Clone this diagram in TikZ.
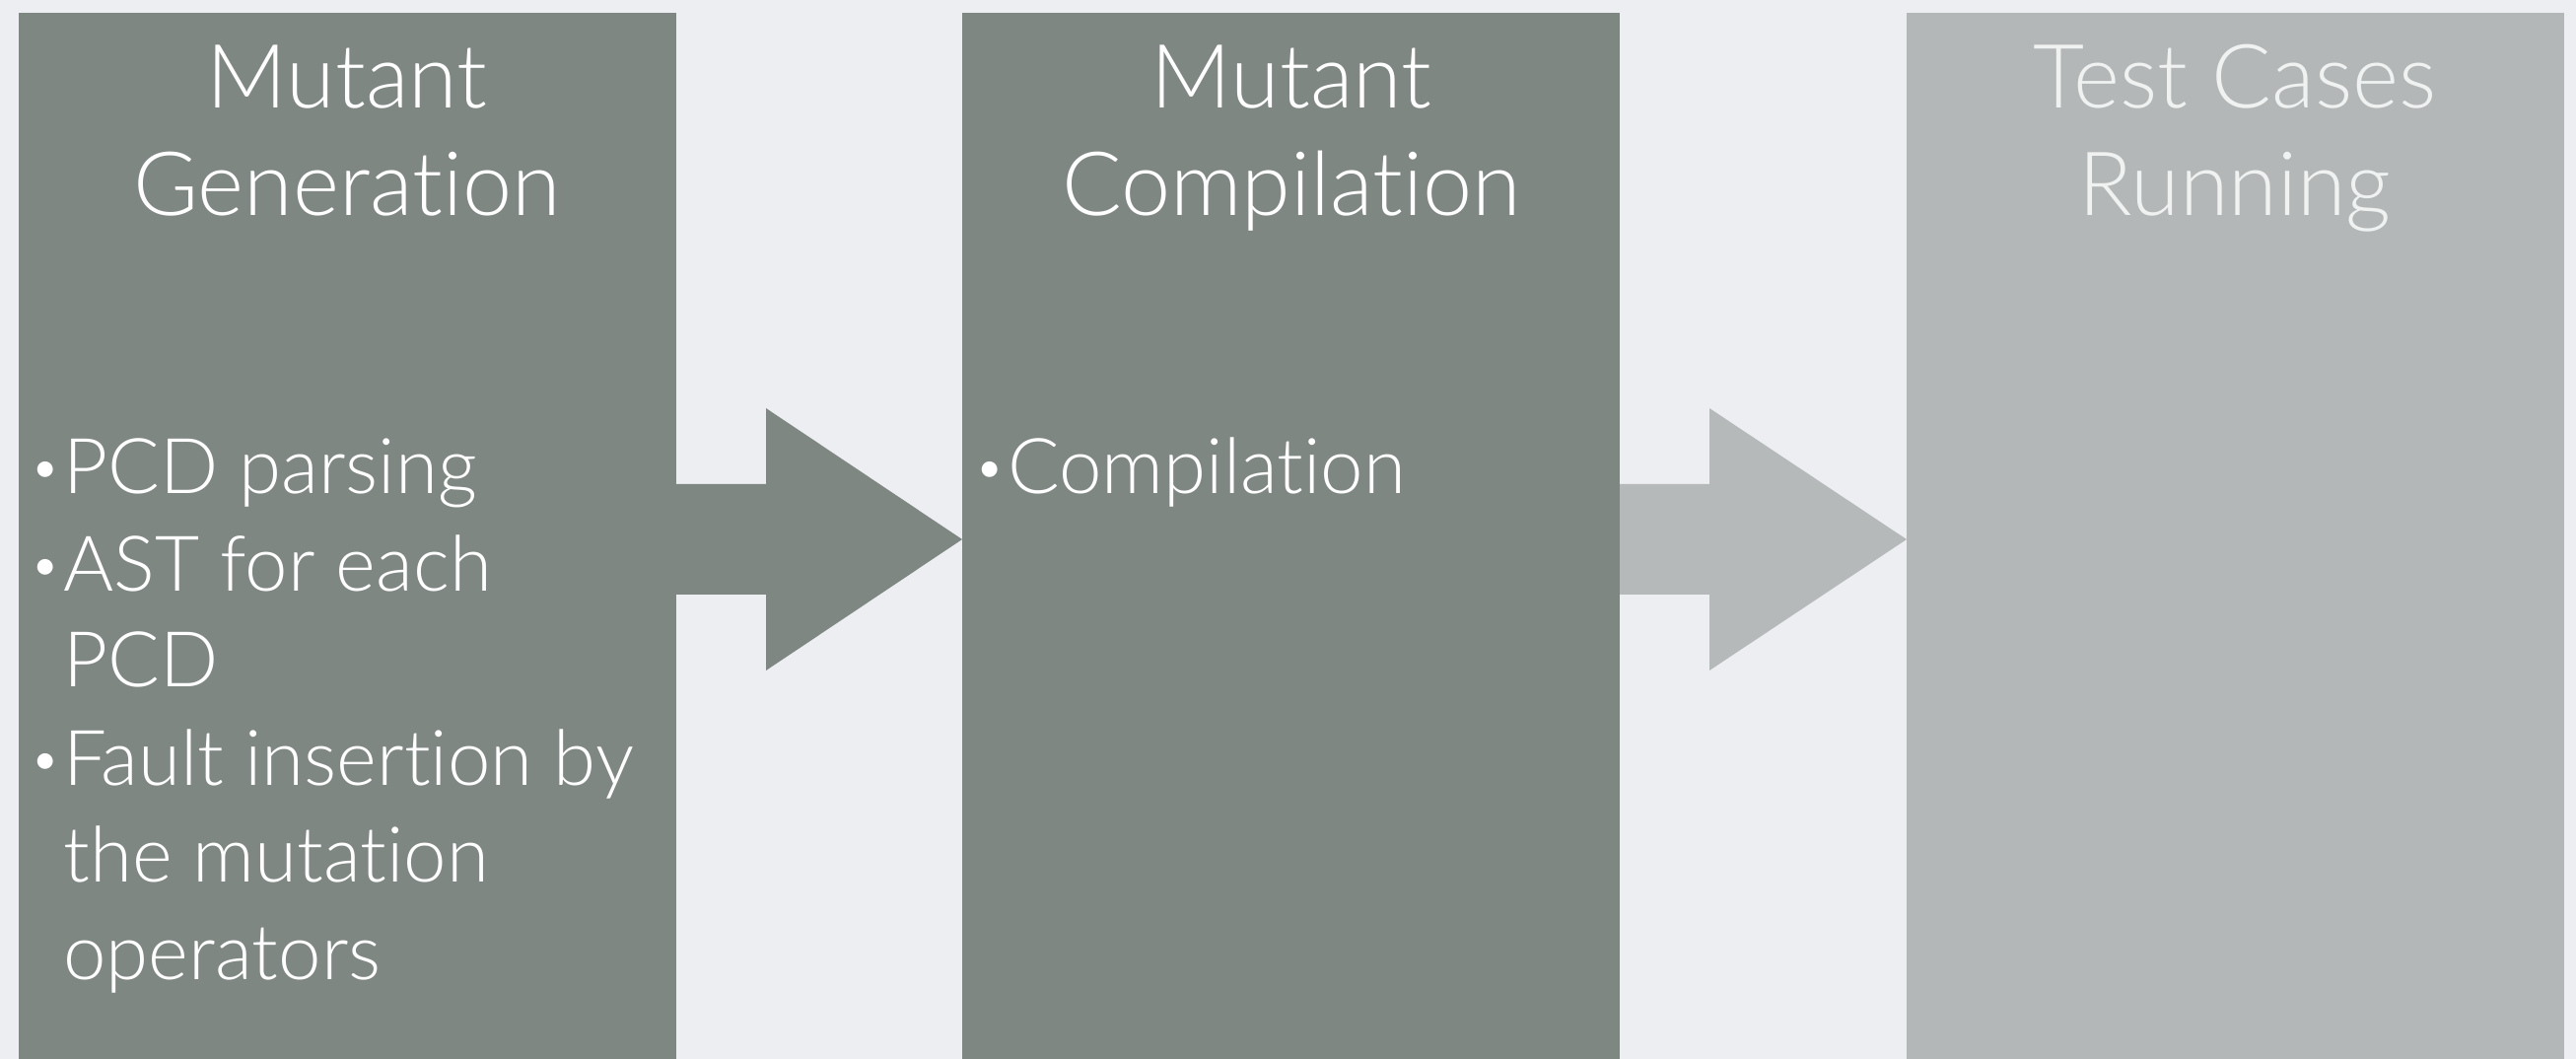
\documentclass[tikz,border=0pt]{standalone}
\usepackage{fontspec}
\setmainfont{Lato Light}[Ligatures=NoCommon]
\definecolor{bg}{RGB}{237,238,241}
\definecolor{dark}{RGB}{127,135,131}
\definecolor{light}{RGB}{179,183,183}
\definecolor{lightarrow}{RGB}{182,185,185}
\definecolor{paletext}{RGB}{240,242,242}
\tikzset{
  panel/.style={rectangle, inner sep=0pt, minimum width=333.5pt, minimum height=530.5pt},
  ttl/.style={anchor=base, inner sep=0pt, font=\fontsize{45}{54}\selectfont},
  itm/.style={anchor=base west, inner sep=0pt, text=white, font=\fontsize{39}{48}\selectfont},
  bul/.style={anchor=base, inner sep=0pt, text=white, font=\fontsize{27}{32}\selectfont},
}
\begin{document}
\begin{tikzpicture}[x=0.5pt,y=-0.5pt]
\useasboundingbox[fill=bg] (0,0) rectangle (2613,1074);
% panels
\node[panel, fill=dark]  (b1) at (352.5,543.5) {};
\node[panel, fill=dark]  (b2) at (1309.5,543.5) {};
\node[panel, fill=light] (b3) at (2267.5,543.5) {};
% arrows
\coordinate (a1s) at (686,547);
\coordinate (a1t) at (976,547);
\coordinate (a2s) at (1643,547);
\coordinate (a2t) at (1934,547);
\fill[dark] (a1s) ++(0,-56) -- ++(91,0) -- ++(0,-77) -- (a1t) -- ++(-199,133) -- ++(0,-77) -- ++(-91,0) -- cycle;
\fill[lightarrow] (a2s) ++(0,-56) -- ++(91,0) -- ++(0,-77) -- (a2t) -- ++(-200,133) -- ++(0,-77) -- ++(-91,0) -- cycle;
% titles
\node[ttl, text=white] (t1a) at (352,110) {Mutant};
\node[ttl, text=white] (t1b) at (352,219) {Generation};
\node[ttl, text=white] (t2a) at (1310,110) {Mutant};
\node[ttl, text=white] (t2b) at (1310,219) {Compilation};
\node[ttl, text=paletext] (t3a) at (2267,110) {Test Cases};
\node[ttl, text=paletext] (t3b) at (2267,219) {Running};
% bullets box 1
\node[bul] (p1) at (46,493) {•};
\node[itm] (i1) at (64,501) {PCD parsing};
\node[bul] (p2) at (46,592) {•};
\node[itm] (i2) at (64,600) {AST for each};
\node[itm] (i2b) at (64,697) {PCD};
\node[bul] (p3) at (46,788) {•};
\node[itm] (i3) at (64,796) {Fault insertion by};
\node[itm] (i3b) at (64,894) {the mutation};
\node[itm] (i3c) at (64,993) {operators};
% bullets box 2
\node[bul] (p4) at (1004,493) {•};
\node[itm] (i4) at (1022,501) {Compilation};
\end{tikzpicture}
\end{document}
